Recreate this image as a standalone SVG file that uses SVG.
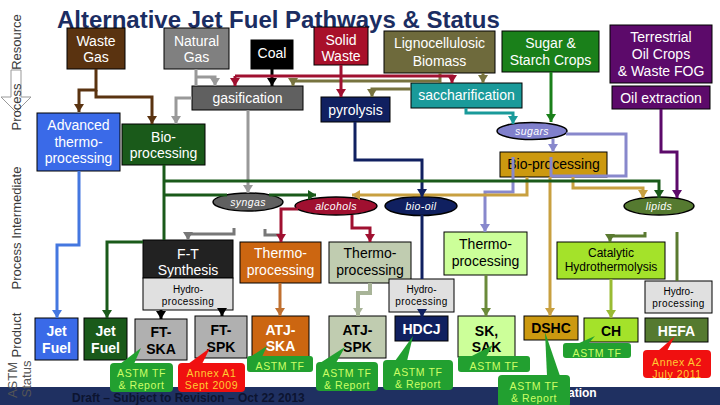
<svg xmlns="http://www.w3.org/2000/svg" width="720" height="405" viewBox="0 0 720 405">
<defs>
<style>
.t{font-family:"Liberation Sans",Arial,sans-serif;text-anchor:middle}
.w{fill:#fff}.k{fill:#000}
.f14{font-size:14px}.f13{font-size:13px}.f12{font-size:12px}.f10{font-size:10px}
.b{font-weight:bold}.i{font-style:italic;font-size:10.5px;fill:#fff;letter-spacing:0.4px}
.box{stroke:#000;stroke-width:1}
.ell{stroke:#000;stroke-width:1.5}
.lab{font-family:"Liberation Sans",Arial,sans-serif;font-size:13px;fill:#3a3a3a;text-anchor:middle}
#connectors path{fill:none;stroke-width:3}
.cg{fill:#22a030}.cr{fill:#f01010}
.ct{font-family:"Liberation Sans",Arial,sans-serif;font-size:10.5px;fill:#ccff66;text-anchor:middle;letter-spacing:0.6px}
.rt{fill:#ffcc33}
</style>
<marker id="m-brown" viewBox="0 0 8 10" refX="8" refY="5" markerWidth="8" markerHeight="10" markerUnits="userSpaceOnUse" orient="auto"><path d="M0,0L8,5L0,10z" fill="#5a3310"/></marker>
<marker id="m-gray" viewBox="0 0 8 10" refX="8" refY="5" markerWidth="8" markerHeight="10" markerUnits="userSpaceOnUse" orient="auto"><path d="M0,0L8,5L0,10z" fill="#999"/></marker>
<marker id="m-dgray" viewBox="0 0 8 10" refX="8" refY="5" markerWidth="8" markerHeight="10" markerUnits="userSpaceOnUse" orient="auto"><path d="M0,0L8,5L0,10z" fill="#777"/></marker>
<marker id="m-black" viewBox="0 0 8 10" refX="8" refY="5" markerWidth="8" markerHeight="10" markerUnits="userSpaceOnUse" orient="auto"><path d="M0,0L8,5L0,10z" fill="#000"/></marker>
<marker id="m-crimson" viewBox="0 0 8 10" refX="8" refY="5" markerWidth="8" markerHeight="10" markerUnits="userSpaceOnUse" orient="auto"><path d="M0,0L8,5L0,10z" fill="#a01030"/></marker>
<marker id="m-olive" viewBox="0 0 8 10" refX="8" refY="5" markerWidth="8" markerHeight="10" markerUnits="userSpaceOnUse" orient="auto"><path d="M0,0L8,5L0,10z" fill="#77733f"/></marker>
<marker id="m-green" viewBox="0 0 8 10" refX="8" refY="5" markerWidth="8" markerHeight="10" markerUnits="userSpaceOnUse" orient="auto"><path d="M0,0L8,5L0,10z" fill="#1a801a"/></marker>
<marker id="m-teal" viewBox="0 0 8 10" refX="8" refY="5" markerWidth="8" markerHeight="10" markerUnits="userSpaceOnUse" orient="auto"><path d="M0,0L8,5L0,10z" fill="#1a9a9a"/></marker>
<marker id="m-purple" viewBox="0 0 8 10" refX="8" refY="5" markerWidth="8" markerHeight="10" markerUnits="userSpaceOnUse" orient="auto"><path d="M0,0L8,5L0,10z" fill="#5c0a6a"/></marker>
<marker id="m-navy" viewBox="0 0 8 10" refX="8" refY="5" markerWidth="8" markerHeight="10" markerUnits="userSpaceOnUse" orient="auto"><path d="M0,0L8,5L0,10z" fill="#102060"/></marker>
<marker id="m-blue" viewBox="0 0 8 10" refX="8" refY="5" markerWidth="8" markerHeight="10" markerUnits="userSpaceOnUse" orient="auto"><path d="M0,0L8,5L0,10z" fill="#4477e0"/></marker>
<marker id="m-dkgreen" viewBox="0 0 8 10" refX="8" refY="5" markerWidth="8" markerHeight="10" markerUnits="userSpaceOnUse" orient="auto"><path d="M0,0L8,5L0,10z" fill="#1a5a1a"/></marker>
<marker id="m-lav" viewBox="0 0 8 10" refX="8" refY="5" markerWidth="8" markerHeight="10" markerUnits="userSpaceOnUse" orient="auto"><path d="M0,0L8,5L0,10z" fill="#8888cc"/></marker>
<marker id="m-gold" viewBox="0 0 8 10" refX="8" refY="5" markerWidth="8" markerHeight="10" markerUnits="userSpaceOnUse" orient="auto"><path d="M0,0L8,5L0,10z" fill="#c8a040"/></marker>
<marker id="m-orange" viewBox="0 0 8 10" refX="8" refY="5" markerWidth="8" markerHeight="10" markerUnits="userSpaceOnUse" orient="auto"><path d="M0,0L8,5L0,10z" fill="#c07030"/></marker>
<marker id="m-gg" viewBox="0 0 8 10" refX="8" refY="5" markerWidth="8" markerHeight="10" markerUnits="userSpaceOnUse" orient="auto"><path d="M0,0L8,5L0,10z" fill="#a8b498"/></marker>
<marker id="m-og" viewBox="0 0 8 10" refX="8" refY="5" markerWidth="8" markerHeight="10" markerUnits="userSpaceOnUse" orient="auto"><path d="M0,0L8,5L0,10z" fill="#5a7a30"/></marker>
<marker id="m-sk" viewBox="0 0 8 10" refX="8" refY="5" markerWidth="8" markerHeight="10" markerUnits="userSpaceOnUse" orient="auto"><path d="M0,0L8,5L0,10z" fill="#6a8a3a"/></marker>
<marker id="m-lime" viewBox="0 0 8 10" refX="8" refY="5" markerWidth="8" markerHeight="10" markerUnits="userSpaceOnUse" orient="auto"><path d="M0,0L8,5L0,10z" fill="#99bb33"/></marker>
</defs>

<rect width="720" height="405" fill="#fff"/>
<rect x="0" y="387" width="720" height="18" fill="#1f3061"/>

<text x="57" y="28" font-family="Liberation Sans, Arial, sans-serif" font-size="24" font-weight="bold" fill="#1b2d62">Alternative Jet Fuel Pathways &amp; Status</text>

<!-- left row labels -->
<polygon points="11,70 21,70 21,97 31,97 16,112 1,97 11,97" fill="#fff" stroke="#999" stroke-width="1"/>
<text class="lab" transform="translate(21,42) rotate(-90)">Resource</text>
<text class="lab" transform="translate(21,107) rotate(-90)">Process</text>
<text class="lab" transform="translate(21,228) rotate(-90)">Process Intermediate</text>
<text class="lab" transform="translate(21,335) rotate(-90)">Product</text>
<text class="lab" transform="translate(17,380) rotate(-90)" style="fill:#555">ASTM</text>
<text class="lab" transform="translate(31,379) rotate(-90)" style="fill:#555">Status</text>

<!-- resource nodes -->
<g id="waste-gas"><rect class="box" x="67" y="28" width="58" height="41" fill="#5a3310"/><text class="t w f14" x="96" y="46">Waste</text><text class="t w f14" x="96" y="62">Gas</text></g>
<g id="natural-gas"><rect class="box" x="164" y="28" width="65" height="41" fill="#808080"/><text class="t w f14" x="196.5" y="46">Natural</text><text class="t w f14" x="196.5" y="62">Gas</text></g>
<g id="coal"><rect class="box" x="251" y="40" width="42" height="29" fill="#000"/><text class="t w f14" x="272" y="58">Coal</text></g>
<g id="solid-waste"><rect class="box" x="314" y="27" width="54" height="38" fill="#a8102a"/><text class="t w f14" x="341" y="45">Solid</text><text class="t w f14" x="341" y="61">Waste</text></g>
<g id="lignocellulosic"><rect class="box" x="384" y="31" width="111" height="42" fill="#6e6a3c"/><text class="t w f14" x="439.5" y="48">Lignocellulosic</text><text class="t w f14" x="439.5" y="66">Biomass</text></g>
<g id="sugar-starch"><rect class="box" x="502" y="31" width="97" height="41" fill="#1a801a"/><text class="t w f14" x="550.5" y="48">Sugar &amp;</text><text class="t w f14" x="550.5" y="65">Starch Crops</text></g>
<g id="oil-crops"><rect class="box" x="610" y="25" width="102" height="58" fill="#5c0a6a"/><text class="t w f14" x="661" y="42">Terrestrial</text><text class="t w f14" x="661" y="59">Oil Crops</text><text class="t w f14" x="661" y="76">&amp; Waste FOG</text></g>

<!-- process nodes -->
<g id="gasification"><rect class="box" x="192" y="86" width="111" height="24" fill="#606060"/><text class="t w f14" x="247.5" y="103">gasification</text></g>
<g id="pyrolysis"><rect class="box" x="321" y="97" width="69" height="25" fill="#102060"/><text class="t w f14" x="355.5" y="115">pyrolysis</text></g>
<g id="saccharification"><rect class="box" x="411" y="83" width="111" height="25" fill="#1a9a9a"/><text class="t w f14" x="466.5" y="100">saccharification</text></g>
<g id="oil-extraction"><rect class="box" x="612" y="86" width="98" height="23" fill="#5c0a6a"/><text class="t w f14" x="661" y="103">Oil extraction</text></g>
<g id="advanced-thermo"><rect class="box" x="37" y="113" width="83" height="58" fill="#3a6ae8"/><text class="t w f14" x="78.5" y="130">Advanced</text><text class="t w f14" x="78.5" y="147">thermo-</text><text class="t w f14" x="78.5" y="163">processing</text></g>
<g id="bio-processing-green"><rect class="box" x="122" y="124" width="83" height="41" fill="#1a5a1a"/><text class="t w f14" x="163.5" y="142">Bio-</text><text class="t w f14" x="163.5" y="158">processing</text></g>
<g id="sugars"><ellipse class="ell" cx="532" cy="131" rx="35" ry="8.5" fill="#8080cc"/><text class="t i" x="532" y="135">sugars</text></g>
<g id="bio-processing-gold"><rect class="box" x="500" y="152" width="107" height="25" fill="#cc9910"/><text class="t k f14" x="553.5" y="169">Bio-processing</text></g>

<!-- intermediates -->
<g id="syngas"><ellipse class="ell" cx="248" cy="202" rx="35" ry="9" fill="#606060"/><text class="t i" x="248" y="205.5">syngas</text></g>
<g id="alcohols"><ellipse class="ell" cx="336" cy="206" rx="41" ry="9" fill="#a01030"/><text class="t i" x="336" y="209.5">alcohols</text></g>
<g id="bio-oil"><ellipse class="ell" cx="421" cy="206" rx="36" ry="9.5" fill="#102060"/><text class="t i" x="421" y="210">bio-oil</text></g>
<g id="lipids"><ellipse class="ell" cx="659" cy="206" rx="35" ry="9" fill="#557a30"/><text class="t i" x="659" y="210">lipids</text></g>

<!-- second process row -->
<g id="ft-synthesis"><rect class="box" x="143" y="240" width="90" height="38" fill="#222"/><text class="t w f14" x="188" y="259">F-T</text><text class="t w f14" x="188" y="275">Synthesis</text></g>
<g id="hydro-ft"><rect class="box" x="143" y="278" width="90" height="32" fill="#e0e0e0"/><text class="t k f10" x="188" y="293">Hydro-</text><text class="t k f10" x="188" y="305" letter-spacing="0.4">processing</text></g>
<g id="thermo-orange"><rect class="box" x="240" y="242" width="81" height="41" fill="#cc6611"/><text class="t w f14" x="280.5" y="258">Thermo-</text><text class="t w f14" x="280.5" y="275">processing</text></g>
<g id="thermo-graygreen"><rect class="box" x="329" y="242" width="82" height="41" fill="#c0ccb0"/><text class="t k f14" x="370" y="258">Thermo-</text><text class="t k f14" x="370" y="275">processing</text></g>
<g id="thermo-lightgreen"><rect class="box" x="444" y="232" width="83" height="43" fill="#ccff99"/><text class="t k f14" x="485.5" y="249">Thermo-</text><text class="t k f14" x="485.5" y="266">processing</text></g>
<g id="catalytic"><rect class="box" x="557" y="242" width="108" height="37" fill="#a4e22a"/><text class="t k f12" x="611" y="257">Catalytic</text><text class="t k f12" x="611" y="271">Hydrothermolysis</text></g>
<g id="hydro-mid"><rect class="box" x="389" y="279" width="65" height="33" fill="#e0e0e0"/><text class="t k f10" x="421.5" y="293">Hydro-</text><text class="t k f10" x="421.5" y="305" letter-spacing="0.4">processing</text></g>
<g id="hydro-right"><rect class="box" x="645" y="281" width="67" height="32" fill="#e0e0e0"/><text class="t k f10" x="678.5" y="295">Hydro-</text><text class="t k f10" x="678.5" y="307" letter-spacing="0.4">processing</text></g>

<!-- products -->
<g id="jet-fuel-1"><rect class="box" x="35" y="318" width="43" height="42" fill="#3a6ae8"/><text class="t w f14 b" x="56.5" y="336">Jet</text><text class="t w f14 b" x="56.5" y="353">Fuel</text></g>
<g id="jet-fuel-2"><rect class="box" x="84" y="318" width="43" height="42" fill="#1a5a1a"/><text class="t w f14 b" x="105.5" y="336">Jet</text><text class="t w f14 b" x="105.5" y="353">Fuel</text></g>
<g id="ft-ska"><rect class="box" x="135" y="319" width="52" height="41" fill="#b0b0b0"/><text class="t k f14 b" x="161" y="337">FT-</text><text class="t k f14 b" x="161" y="354">SKA</text></g>
<g id="ft-spk"><rect class="box" x="195" y="316" width="52" height="42" fill="#b0b0b0"/><text class="t k f14 b" x="221" y="335">FT-</text><text class="t k f14 b" x="221" y="352">SPK</text></g>
<g id="atj-ska"><rect class="box" x="252" y="316" width="57" height="41" fill="#cc6611"/><text class="t w f14 b" x="280.5" y="335">ATJ-</text><text class="t w f14 b" x="280.5" y="351">SKA</text></g>
<g id="atj-spk"><rect class="box" x="329" y="316" width="57" height="42" fill="#c0ccb0"/><text class="t k f14 b" x="357.5" y="335">ATJ-</text><text class="t k f14 b" x="357.5" y="352">SPK</text></g>
<g id="hdcj"><rect class="box" x="395" y="316" width="53" height="25" fill="#102060"/><text class="t w f14 b" x="421.5" y="334">HDCJ</text></g>
<g id="sk-sak"><rect class="box" x="458" y="316" width="57" height="41" fill="#ccff99"/><text class="t k f14 b" x="486.5" y="336">SK,</text><text class="t k f14 b" x="486.5" y="352">SAK</text></g>
<g id="dshc"><rect class="box" x="524" y="316" width="54" height="24" fill="#cc9910"/><text class="t k f14 b" x="551" y="333">DSHC</text></g>
<g id="ch"><rect class="box" x="584" y="318" width="54" height="24" fill="#a4e22a"/><text class="t k f14 b" x="611" y="336">CH</text></g>
<g id="hefa"><rect class="box" x="645" y="318" width="63" height="24" fill="#557a30"/><text class="t w f14 b" x="676.5" y="336">HEFA</text></g>

<!-- connectors -->
<g id="connectors">
<path stroke="#5a3310" d="M96,69 V90 H79 V112" marker-end="url(#m-brown)"/>
<path stroke="#5a3310" d="M96,90 V97 H152 V124" marker-end="url(#m-brown)"/>
<path stroke="#999" d="M196,69 V86"/>
<path stroke="#999" d="M196,77 H215 V86" marker-end="url(#m-gray)"/>
<path stroke="#999" d="M192,98 H176 V124" marker-end="url(#m-gray)"/>
<path stroke="#000" d="M272,69 V86" marker-end="url(#m-black)"/>
<path stroke="#77733f" d="M440,73 V83"/>
<path stroke="#77733f" d="M440,81 H293 V86" marker-end="url(#m-olive)"/>
<path stroke="#77733f" d="M411,89 H372 V97" marker-end="url(#m-olive)"/>
<path stroke="#77733f" d="M483,73 V83" marker-end="url(#m-olive)"/>
<path stroke="#a01030" d="M235,76 H452 V83" marker-end="url(#m-crimson)"/>
<path stroke="#a01030" d="M235,76 V86" marker-end="url(#m-crimson)"/>
<path stroke="#a01030" d="M341,65 V97" marker-end="url(#m-crimson)"/>
<path stroke="#1a801a" d="M551,72 V122" marker-end="url(#m-green)"/>
<path stroke="#1a9a9a" d="M466,108 V113 H513 V124" marker-end="url(#m-teal)"/>
<path stroke="#5c0a6a" d="M661,109 V152 H677 V198" marker-end="url(#m-purple)"/>
<path stroke="#999" d="M248,110 V193" marker-end="url(#m-gray)"/>
<path stroke="#4477e0" d="M79,171 V245 H57 V318" marker-end="url(#m-blue)"/>
<path stroke="#8888cc" d="M553,139 V152" marker-end="url(#m-lav)"/>
<path stroke="#8888cc" d="M566,134 H626 V176 H551 V157"/>
<path stroke="#8888cc" d="M513,157 V192 H485 V232" marker-end="url(#m-lav)"/>
<path stroke="#c8a040" d="M527,177 V195 H352" marker-end="url(#m-gold)"/>
<path stroke="#c8a040" d="M573,177 V188 H643 V198" marker-end="url(#m-gold)"/>
<path stroke="#c8a040" d="M550,177 V316" marker-end="url(#m-gold)"/>
<path stroke="#102060" d="M355,122 V160 H422 V197" marker-end="url(#m-navy)"/>
<path stroke="#1a5a1a" d="M164,165 V240"/>
<path stroke="#1a5a1a" d="M143,242 H107 V318" marker-end="url(#m-dkgreen)"/>
<path stroke="#1a5a1a" d="M164,181 H659 V198" marker-end="url(#m-dkgreen)"/>
<path stroke="#1a5a1a" d="M164,195 H227"/>
<path stroke="#1a5a1a" d="M269,195 H316" marker-end="url(#m-dkgreen)"/>
<path stroke="#777" d="M265,229 V235 H281"/>
<path stroke="#777" d="M234,228 V234 H188 V240" marker-end="url(#m-dgray)"/>
<path stroke="#a01030" d="M298,209 H281 V242" marker-end="url(#m-crimson)"/>
<path stroke="#a01030" d="M352,215 V228 H370 V242" marker-end="url(#m-crimson)"/>
<path stroke="#102060" d="M422,215 V279"/>
<path stroke="#102060" d="M422,312 V317" marker-end="url(#m-navy)"/>
<path stroke="#000" d="M161,310 V319" marker-end="url(#m-black)"/>
<path stroke="#000" d="M222,310 V316" marker-end="url(#m-black)"/>
<path stroke="#c07030" d="M280,283 V316" marker-end="url(#m-orange)"/>
<path stroke="#a8b498" style="stroke-width:4" d="M370,283 V293 H358 V316" marker-end="url(#m-gg)"/>
<path stroke="#5a7a30" d="M645,232 V236 H610 V242" marker-end="url(#m-og)"/>
<path stroke="#5a7a30" d="M677,232 V281"/>
<path stroke="#6a8a3a" d="M486,275 V316" marker-end="url(#m-sk)"/>
<path stroke="#99bb33" d="M611,279 V318" marker-end="url(#m-lime)"/>
</g>

<!-- footer texts -->
<text x="72" y="402" font-family="Liberation Sans, Arial, sans-serif" font-size="12" font-weight="bold" fill="#0c1430">Draft – Subject to Revision – Oct 22 2013</text>
<text x="568" y="397" font-family="Liberation Sans, Arial, sans-serif" font-size="12" font-weight="bold" fill="#fff">ation</text>

<!-- status callouts -->
<g id="status-ft-ska"><polygon class="cg" points="120,364 141,348 134,364"/><rect class="cg" x="110" y="363" width="63" height="29" rx="4"/><text class="ct" x="141.5" y="377">ASTM TF</text><text class="ct" x="141.5" y="389">&amp; Report</text></g>
<g id="status-ft-spk"><polygon class="cr" points="188,364 210,348 202,364"/><rect class="cr" x="178" y="363" width="67" height="29" rx="4"/><text class="ct rt" x="211.5" y="377">Annex A1</text><text class="ct rt" x="211.5" y="389">Sept 2009</text></g>
<g id="status-atj-ska"><polygon class="cg" points="250,357 267,346 262,357"/><rect class="cg" x="247" y="356" width="66" height="16" rx="3"/><text class="ct" x="280" y="369.5">ASTM TF</text></g>
<g id="status-atj-spk"><polygon class="cg" points="320,363 345,347 336,363"/><rect class="cg" x="316" y="362" width="62" height="29" rx="4"/><text class="ct" x="347" y="377">ASTM TF</text><text class="ct" x="347" y="389">&amp; Report</text></g>
<g id="status-hdcj"><polygon class="cg" points="395,361 413,336 407,361"/><rect class="cg" x="383" y="360" width="70" height="30" rx="4"/><text class="ct" x="418" y="376">ASTM TF</text><text class="ct" x="418" y="388">&amp; Report</text></g>
<g id="status-sk-sak"><polygon class="cg" points="470,357 493,345 486,357"/><rect class="cg" x="458" y="356" width="72" height="16" rx="3"/><text class="ct" x="494" y="370">ASTM TF</text></g>
<g id="status-dshc"><polygon class="cg" points="547,376 545,332 560,376"/><rect class="cg" x="498" y="375" width="72" height="32" rx="4"/><text class="ct" x="534" y="389.5">ASTM TF</text><text class="ct" x="534" y="402">&amp; Report</text></g>
<g id="status-ch"><polygon class="cg" points="577,344 595,336 588,344"/><rect class="cg" x="563" y="343" width="68" height="15" rx="3"/><text class="ct" x="597" y="356.5">ASTM TF</text></g>
<g id="status-hefa"><polygon class="cr" points="658,351 675,336 667,351"/><rect class="cr" x="643" y="350" width="68" height="28" rx="4"/><text class="ct rt" x="677" y="365.5">Annex A2</text><text class="ct rt" x="677" y="377.5">July 2011</text></g>
</svg>
